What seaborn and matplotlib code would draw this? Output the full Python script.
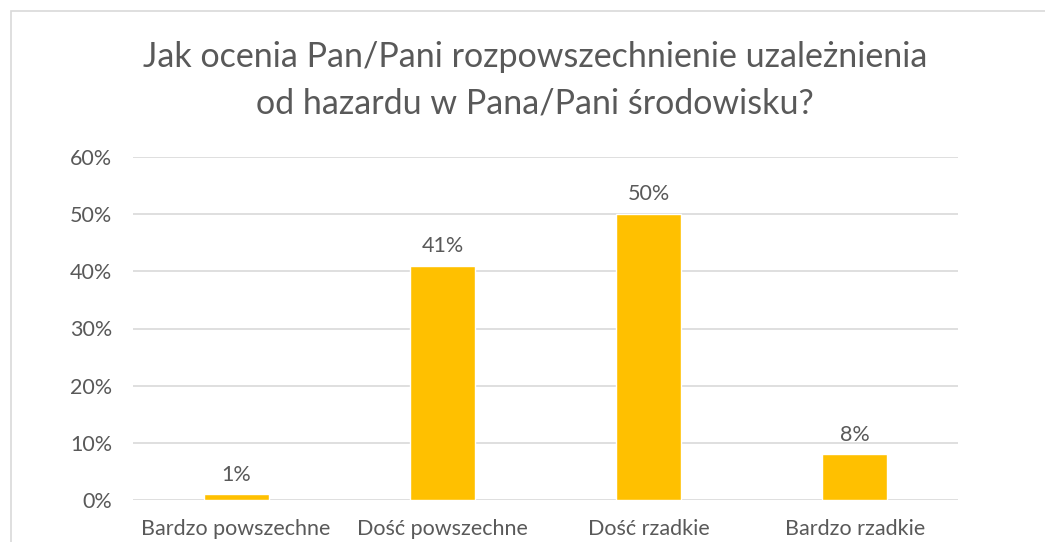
import matplotlib
matplotlib.use("Agg")
import matplotlib.pyplot as plt
import seaborn as sns
import pandas as pd
from matplotlib.patches import Rectangle
from matplotlib.ticker import FuncFormatter, MultipleLocator

categories = ["Bardzo powszechne", "Dość powszechne", "Dość rzadkie", "Bardzo rzadkie"]
values = [1, 41, 50, 8]
title = "Jak ocenia Pan/Pani rozpowszechnienie uzależnienia\nod hazardu w Pana/Pani środowisku?"

sns.set_style("white")
plt.rcParams['font.family'] = ['Lato', 'DejaVu Sans']

W, H = 1045, 542
fig = plt.figure(figsize=(W / 100, H / 100), dpi=100)
text_color = "#595959"
grid_color = "#D9D9D9"

# chart border (cropped at right/bottom)
fig.patches.append(Rectangle((10.5 / W, -0.1), 1.2, 1 - 10.5 / H + 0.1,
                             transform=fig.transFigure, fill=False,
                             edgecolor=grid_color, linewidth=1.2))

ax = fig.add_axes([133 / W, 42 / H, (958 - 133) / W, (385 - 42) / H])
df = pd.DataFrame({"cat": categories, "val": values})
sns.barplot(data=df, x="cat", y="val", color="#FFC000", width=0.315, ax=ax,
            saturation=1)

ax.set_ylim(0, 60)
ax.set_xlim(-0.5, 3.5)
ax.yaxis.set_major_locator(MultipleLocator(10))
ax.yaxis.set_major_formatter(FuncFormatter(lambda v, p: f"{int(v)}%"))
ax.grid(axis="y", color=grid_color, linewidth=1.2)
ax.set_axisbelow(True)
for s in ax.spines.values():
    s.set_visible(False)
ax.set_xlabel("")
ax.set_ylabel("")
ax.tick_params(axis="both", length=0, labelsize=15.5, colors=text_color)
ax.tick_params(axis="y", pad=15)
ax.tick_params(axis="x", pad=14)

for i, v in enumerate(values):
    ax.annotate(f"{v}%", (i, v), xytext=(0, 7), textcoords="offset points",
                ha="center", va="bottom", fontsize=15.5, color=text_color)

fig.text(535 / W, 1 - 80 / H, title, ha="center", va="center", fontsize=24.5,
         color=text_color, linespacing=1.55)

fig.savefig("out.png", dpi=100, facecolor="white")
